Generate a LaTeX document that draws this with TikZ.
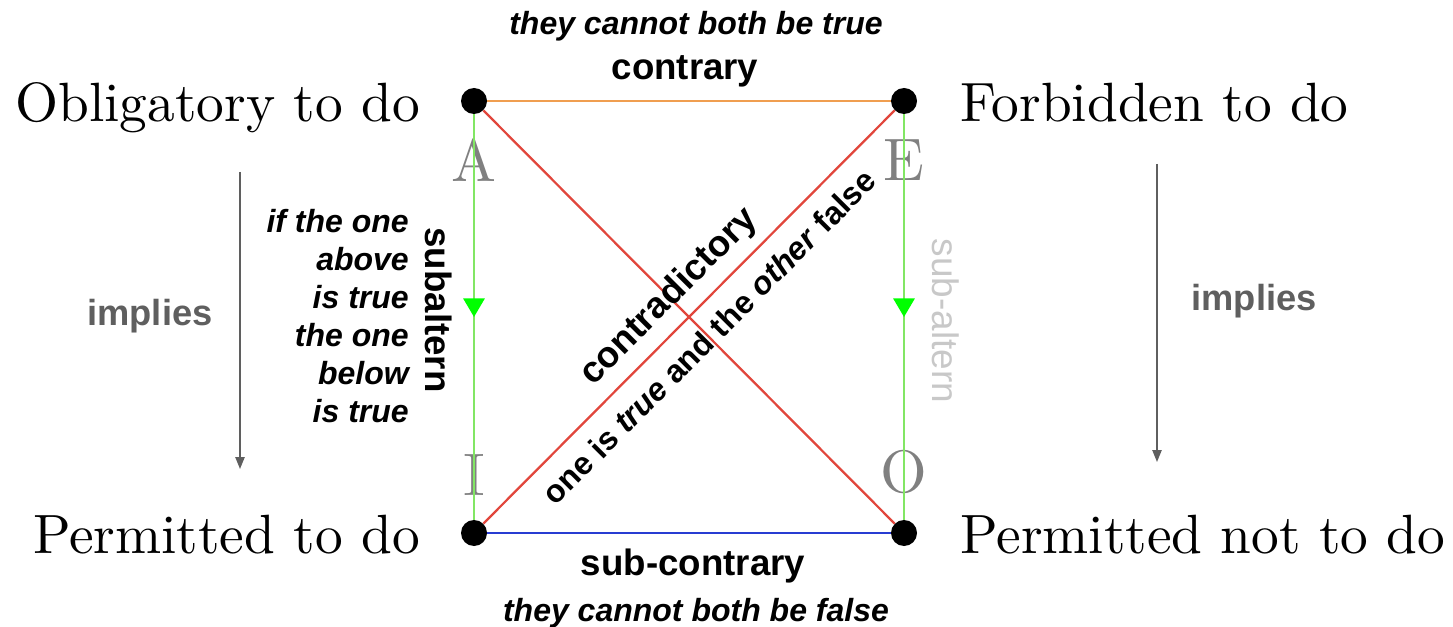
\documentclass[tikz,border=0pt]{standalone}
\usepackage{fontspec}
\setsansfont{Liberation Sans}
\newfontfamily\lmten{lmroman10-regular.otf}
\usetikzlibrary{arrows.meta,decorations.markings}
\definecolor{orangeline}{RGB}{240,158,80}
\definecolor{redline}{RGB}{225,70,60}
\definecolor{greenline}{RGB}{130,230,100}
\definecolor{arrowgreen}{RGB}{0,255,0}
\definecolor{blueline}{RGB}{40,60,210}
\definecolor{lettergray}{RGB}{128,128,128}
\definecolor{implgray}{RGB}{95,95,95}
\definecolor{subgray}{RGB}{200,200,200}
\begin{document}
\begin{tikzpicture}[x=0.75pt,y=-0.75pt,
  dotnode/.style={circle,fill=black,inner sep=0pt,minimum size=19.5pt},
  termtext/.style={font=\lmten\fontsize{41.5}{48}\selectfont,inner sep=0pt},
  vowel/.style={font=\lmten\fontsize{45}{50}\selectfont,text=lettergray,inner sep=0pt},
  boldlabel/.style={font=\sffamily\bfseries\fontsize{27.5}{32}\selectfont,inner sep=0pt},
  boldsmall/.style={font=\sffamily\bfseries\fontsize{24}{28.5}\selectfont,inner sep=0pt},
  italabel/.style={font=\sffamily\bfseries\itshape\fontsize{24}{28.5}\selectfont,inner sep=0pt},
  impl/.style={font=\sffamily\bfseries\fontsize{27.2}{32}\selectfont,text=implgray,inner sep=0pt},
  contraryline/.style={draw=orangeline,line width=2pt},
  subcontraryline/.style={draw=blueline,line width=2pt},
  contraline/.style={draw=redline,line width=1.7pt},
  subline/.style={draw=greenline,line width=1.7pt,postaction={decorate},
    decoration={markings,mark=at position 0.5 with {\arrow{Triangle[length=14pt,width=16pt,color=arrowgreen]}}}},
  implarrow/.style={draw=implgray,line width=1.1pt,-{Triangle[length=9pt,width=7pt]}}
]
\useasboundingbox (0,0) rectangle (1453,627);

% vowels (under the lines)
\node[vowel] (va) at (474,160) {A};
\node[vowel] (ve) at (904,160) {E};
\node[vowel] (vi) at (474,475) {I};
\node[vowel] (vo) at (904,472) {O};

% corner dots
\node[dotnode] (A) at (474,101) {};
\node[dotnode] (E) at (904,101) {};
\node[dotnode] (I) at (474,533) {};
\node[dotnode] (O) at (904,533) {};

% connectors
\draw[contraryline] (A) -- (E);
\draw[subcontraryline] (I) -- (O);
\draw[contraline] (A) -- (O);
\draw[contraline] (I) -- (E)
  node[midway,sloped,yshift=21pt,boldlabel] (contra) {contradictory}
  node[midway,sloped,yshift=-21pt,boldsmall] (onetrue) {one is \textit{true} and the \textit{other} false};
\draw[subline] (A) -- (I);
\draw[subline] (E) -- (O);

% terms
\node[termtext,anchor=base east] (obl) at (420,122) {Obligatory to do};
\node[termtext,anchor=base west] (forb) at (960,122) {Forbidden to do};
\node[termtext,anchor=base east] (perm) at (420,553) {Permitted to do};
\node[termtext,anchor=base west] (permnot) at (960,553) {Permitted not to do};

% labels
\node[italabel,anchor=base] (ctrue) at (696,35) {they cannot both be true};
\node[boldlabel,anchor=base] (contr) at (685,80) {contrary};
\node[boldlabel,anchor=base] (subc) at (693,575) {sub-contrary};
\node[italabel,anchor=base] (cfalse) at (696,621) {they cannot both be false};

\node[italabel,align=right,anchor=east] (iftrue) at (409,316)
  {if the one\\above\\is true\\the one\\below\\is true};
\node[boldlabel,rotate=-90] (sublab) at (439,310) {subaltern};
\node[font=\sffamily\fontsize{27.7}{32}\selectfont,text=subgray,inner sep=0pt,rotate=-90] (sublab2) at (946,321) {sub-altern};

% implies arrows
\coordinate (la1) at (240,172);
\coordinate (la2) at (240,469);
\coordinate (ra1) at (1157,164);
\coordinate (ra2) at (1157,462);
\draw[implarrow] (la1) -- (la2);
\draw[implarrow] (ra1) -- (ra2);
\node[impl] (limpl) at (150,316) {implies};
\node[impl] (rimpl) at (1254,301) {implies};
\end{tikzpicture}
\end{document}
